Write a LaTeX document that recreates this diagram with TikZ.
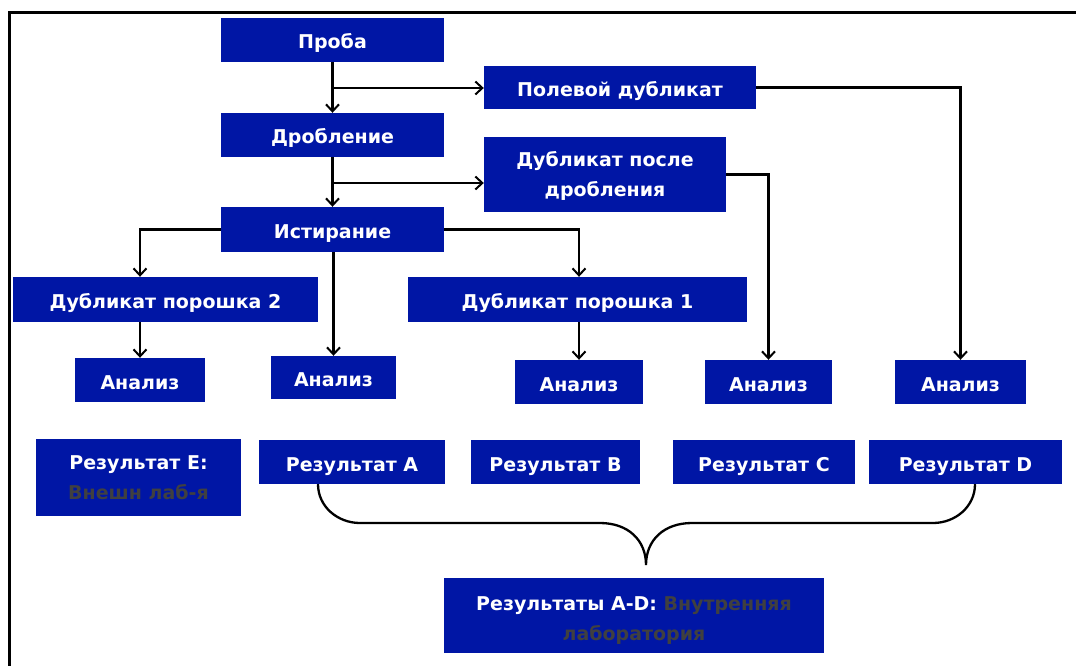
\documentclass[tikz,border=0pt]{standalone}
\usepackage{fontspec}
\setmainfont{DejaVu Sans}
\usetikzlibrary{arrows.meta}
\definecolor{boxblue}{RGB}{0,22,165}
\definecolor{labgray}{RGB}{64,64,64}
\begin{document}
\begin{tikzpicture}[x=1pt,y=-1pt,
  blk/.style={fill=boxblue, text=white, font=\bfseries\fontsize{19}{30}\selectfont, inner sep=0pt, align=center},
  one/.style={text height=18pt, text depth=0pt},
  conn/.style={line width=2.3pt, -{Straight Barb[length=7pt,width=13pt,line width=2pt]}},
  bracel/.style={line width=2.3pt}]
\useasboundingbox (0,0) rectangle (1076,666);
\begin{scope}
  \clip (0,0) rectangle (1076,666);
  \draw[line width=2.5pt] (9.5,12.5) rectangle (1100,700);
\end{scope}
% top chain
\node[blk, one, minimum width=223pt, minimum height=44pt] (proba) at (332.5,40) {Проба};
\node[blk, one, minimum width=272pt, minimum height=43pt] (pole) at (620,87.5) {Полевой дубликат};
\node[blk, one, minimum width=223pt, minimum height=44pt] (drob) at (332.5,135) {Дробление};
\node[blk, minimum width=242pt, minimum height=75pt] (dupd) at (605,174.5) {\rule{0pt}{18.5pt}Дубликат после\\дробления};
\node[blk, one, minimum width=223pt, minimum height=45pt] (ist) at (332.5,229.5) {Истирание};
\node[blk, one, minimum width=305pt, minimum height=45pt] (dp2) at (165.5,299.5) {Дубликат порошка 2};
\node[blk, one, minimum width=339pt, minimum height=45pt] (dp1) at (577.5,299.5) {Дубликат порошка 1};
% analyses
\node[blk, one, minimum width=130pt, minimum height=44pt] (an1) at (140,380) {Анализ};
\node[blk, one, minimum width=125pt, minimum height=43pt] (an2) at (333.5,377.5) {Анализ};
\node[blk, one, minimum width=128pt, minimum height=44pt] (an3) at (579,382) {Анализ};
\node[blk, one, minimum width=127pt, minimum height=44pt] (an4) at (768.5,382) {Анализ};
\node[blk, one, minimum width=131pt, minimum height=44pt] (an5) at (960.5,382) {Анализ};
% results
\node[blk, minimum width=205pt, minimum height=77pt] (resE) at (138.5,477.5) {Результат E:\\\textcolor{labgray}{Внешн лаб-я}};
\node[blk, one, minimum width=186pt, minimum height=44pt] (resA) at (352,462) {Результат A};
\node[blk, one, minimum width=169pt, minimum height=44pt] (resB) at (555.5,462) {Результат B};
\node[blk, one, minimum width=182pt, minimum height=44pt] (resC) at (764,462) {Результат C};
\node[blk, one, minimum width=193pt, minimum height=44pt] (resD) at (965.5,462) {Результат D};
\node[blk, minimum width=380pt, minimum height=75pt] (resAD) at (634,615.5) {\rule{0pt}{24pt}Результаты A-D: \textcolor{labgray}{Внутренняя}\\\textcolor{labgray}{лаборатория}};
% connectors
\coordinate (b1) at (332.5,88);
\coordinate (b2) at (332.5,183);
\draw[conn] (proba) -- (drob);
\draw[conn] (b1) -- (b1 -| pole.west);
\draw[conn] (drob) -- (ist);
\draw[conn] (b2) -- (b2 -| dupd.west);
\draw[conn] (ist.west) -| (an1 |- dp2.north);
\draw[conn] (ist.east) -| (an3 |- dp1.north);
\draw[conn] (ist.south -| an2) -- (an2.north);
\draw[conn] (an1 |- dp2.south) -- (an1.north);
\draw[conn] (an3 |- dp1.south) -- (an3.north);
\draw[conn] (dupd.east) -| (an4.north);
\draw[conn] (pole.east) -| (an5.north);
% brace
\draw[bracel] ([xshift=-34pt]resA.south) to[out=-90,in=180] (360,523) -- (600,523)
  .. controls (628,523) and (646,540) .. (646,565)
  .. controls (646,540) and (664,523) .. (692,523) -- (933,523)
  to[out=0,in=-90] ([xshift=9.5pt]resD.south);
\end{tikzpicture}
\end{document}
